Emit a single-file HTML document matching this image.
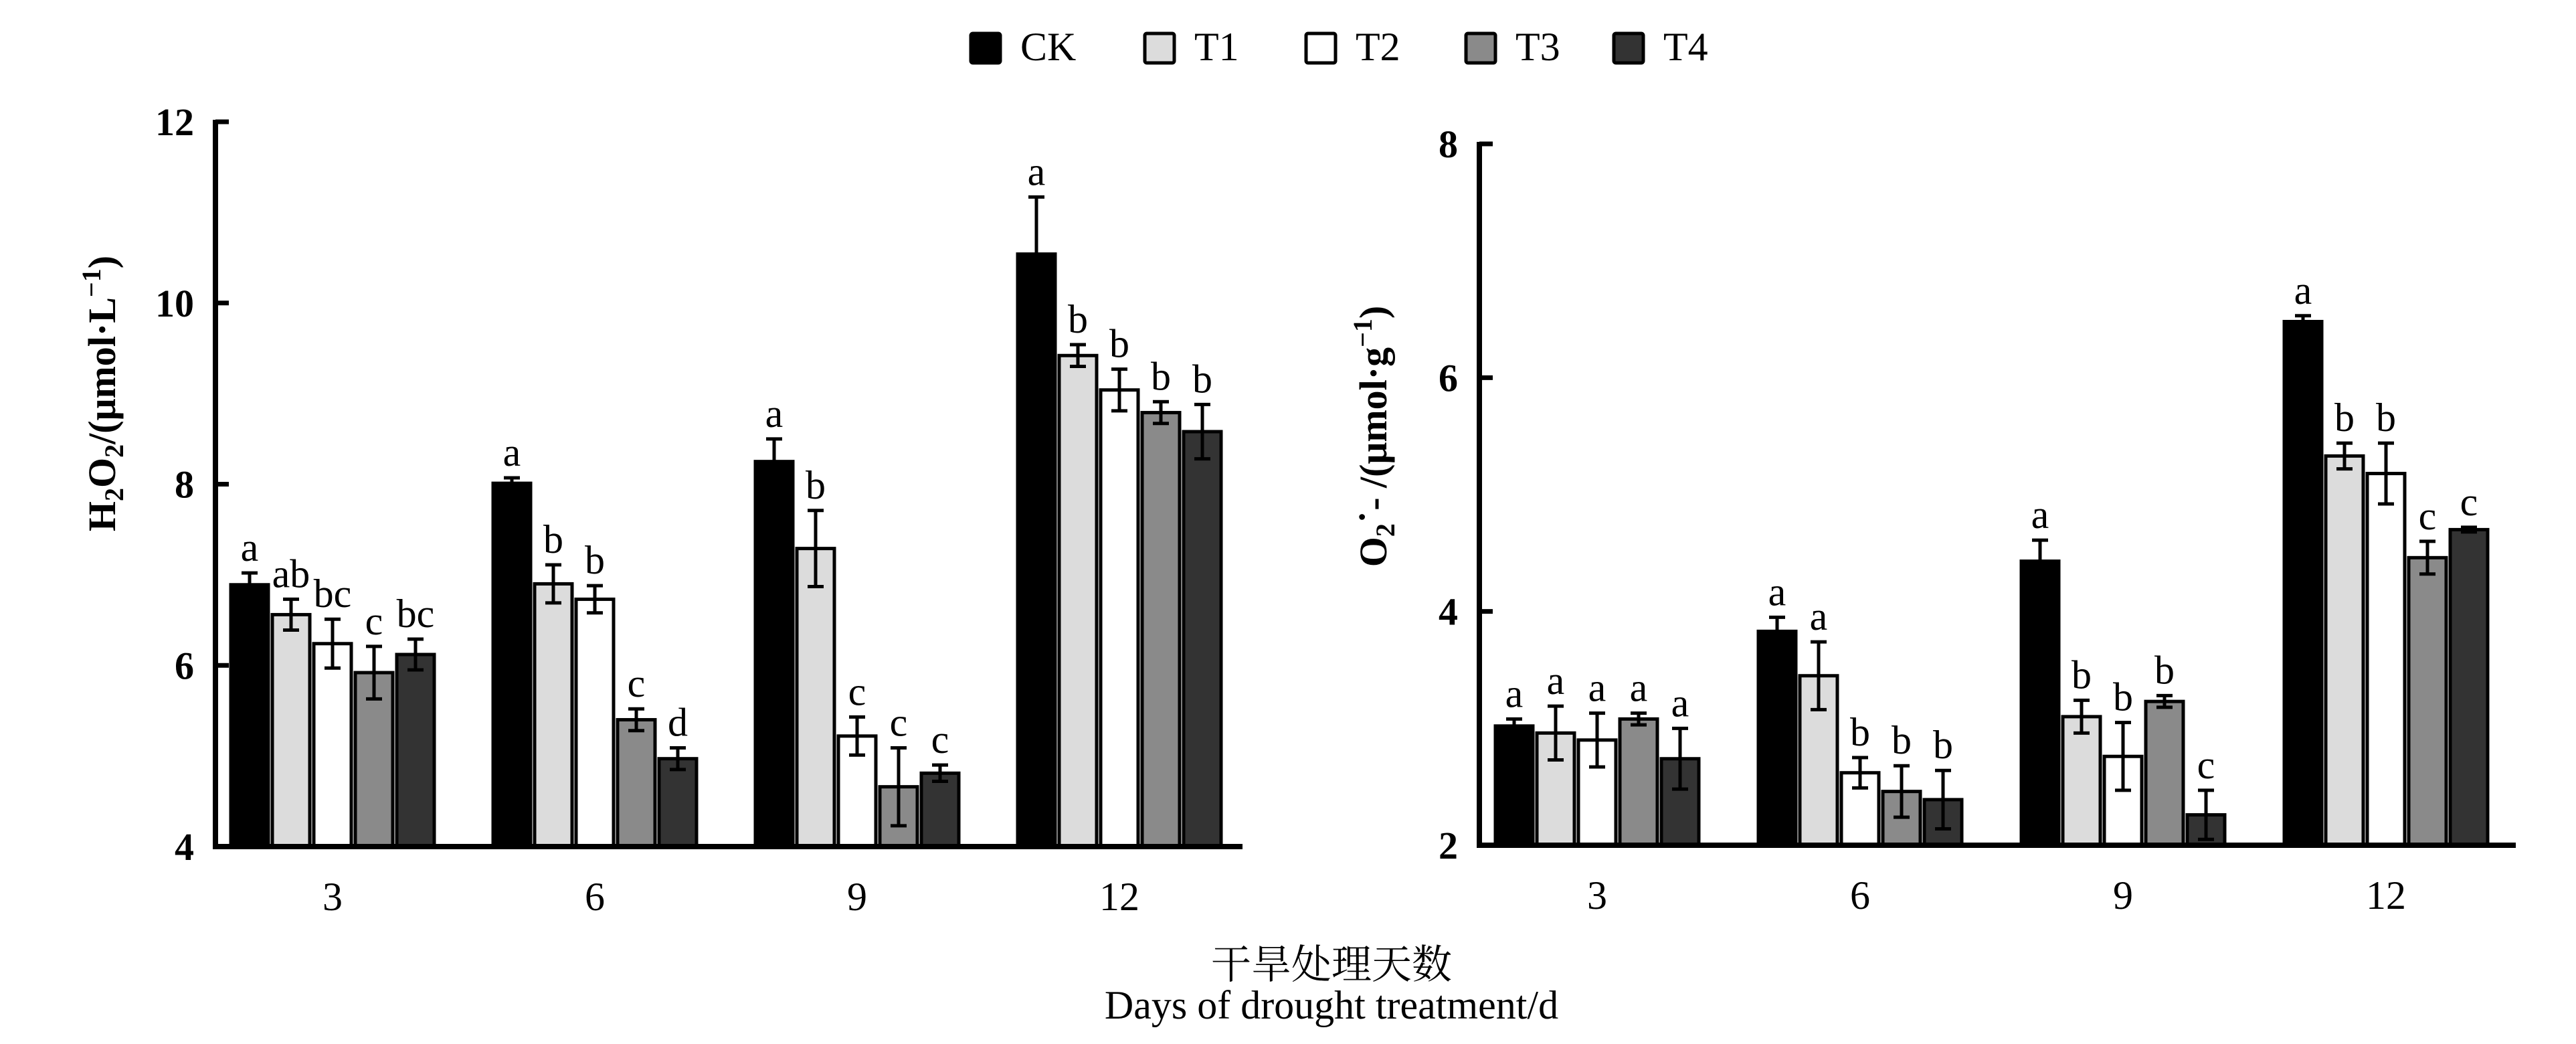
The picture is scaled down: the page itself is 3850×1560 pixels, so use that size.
<!DOCTYPE html>
<html><head><meta charset="utf-8"><style>
html,body{margin:0;padding:0;background:#fff;}
svg{display:block;font-family:"Liberation Serif","Noto Serif CJK SC",serif;}
</style></head><body>
<svg id="chart" width="3850" height="1560" viewBox="0 0 3850 1560" xmlns="http://www.w3.org/2000/svg">
<g id="legend"></g>
<g id="left"></g>
<g id="right"></g>
<text x="1990" y="1462" font-size="60" text-anchor="middle" font-family="'Noto Serif CJK SC','Noto Sans CJK SC',serif">干旱处理天数</text>
<text x="1990" y="1522" font-size="60" text-anchor="middle">Days of drought treatment/d</text>
</svg>
<script>
const categories = ["3","6","9","12"];
const series = ["CK","T1","T2","T3","T4"];
const fills = ["#000","#dcdcdc","#fff","#8a8a8a","#333"];
const h2o2CK = [6.89, 8.01, 8.25, 10.54];
const h2o2T1 = [6.56, 6.90, 7.29, 9.42];
const h2o2T2 = [6.24, 6.73, 5.22, 9.04];
const h2o2T3 = [5.92, 5.40, 4.66, 8.79];
const h2o2T4 = [6.12, 4.97, 4.81, 8.58];
const h2o2Err = [[0.13,0.06,0.25,0.63],[0.17,0.21,0.42,0.12],[0.27,0.15,0.21,0.23],[0.29,0.12,0.43,0.12],[0.17,0.12,0.09,0.30]];
const h2o2Letters = [["a","a","a","a"],["ab","b","b","b"],["bc","b","c","b"],["c","c","c","b"],["bc","d","c","b"]];
const o2CK = [3.02, 3.83, 4.43, 6.48];
const o2T1 = [2.96, 3.45, 3.10, 5.33];
const o2T2 = [2.90, 2.62, 2.76, 5.18];
const o2T3 = [3.08, 2.46, 3.23, 4.46];
const o2T4 = [2.74, 2.39, 2.26, 4.70];
const o2Err = [[0.06,0.12,0.18,0.05],[0.23,0.29,0.14,0.11],[0.23,0.13,0.29,0.26],[0.05,0.22,0.05,0.14],[0.26,0.25,0.21,0.02]];
const o2Letters = [["a","a","a","a"],["a","a","b","b"],["a","b","b","b"],["a","b","b","c"],["a","b","c","c"]];
const h2o2Ticks = [4,6,8,10,12];
const o2Ticks = [2,4,6,8];

const NS="http://www.w3.org/2000/svg";
function mk(tag, attrs, parent){const e=document.createElementNS(NS,tag);for(const k in attrs)e.setAttribute(k,attrs[k]);parent.appendChild(e);return e;}

function panel(g, cfg){
  const yScale=v=>cfg.y0-(v-cfg.vmin)*(cfg.y0-cfg.y1)/(cfg.vmax-cfg.vmin);
  const xCenter=i=>cfg.cx0+i*cfg.step;
  const barW=56, barStep=62;
  cfg.data.forEach((vals,s)=>{
    vals.forEach((v,i)=>{
      const x=xCenter(i)+(s-2)*barStep-barW/2;
      const yt=yScale(v);
      const r=mk('rect',{x:x,y:yt,width:barW,height:cfg.y0-yt,fill:fills[s],stroke:'#000','stroke-width':5},g);
      
      
      const e=cfg.err[s][i];
      const xc=x+barW/2, ya=yScale(v+e), yb=yScale(v-e);
      const eb=mk('path',{d:`M${xc},${ya}V${yb}M${xc-12},${ya}H${xc+12}M${xc-12},${yb}H${xc+12}`,stroke:'#000','stroke-width':5,fill:'none'},g);
      
      
      const t=mk('text',{x:xc,y:ya-18,'font-size':60,'text-anchor':'middle'},g);
      t.textContent=cfg.letters[s][i];
      
      
    });
  });
  const ax=mk('path',{d:`M${cfg.ax},${cfg.y1-3}V${cfg.y0}H${cfg.axEnd}`,stroke:'#000','stroke-width':8,fill:'none'},g);
  
  
  cfg.ticks.forEach(tv=>{
    const y=yScale(tv);
    const tk=mk('line',{x1:cfg.ax,x2:cfg.ax+20,y1:y,y2:y,stroke:'#000','stroke-width':7},g);
    
    
    const tl=mk('text',{x:cfg.ax-32,y:y+20,'font-size':58,'text-anchor':'end','font-weight':'bold'},g);
    tl.textContent=tv;
    
    
  });
  categories.forEach((c,i)=>{
    const tl=mk('text',{x:xCenter(i),y:cfg.y0+95,'font-size':60,'text-anchor':'middle'},g);
    tl.textContent=c;
    
    
  });
}

panel(document.getElementById('left'),{y0:1265,y1:182,vmin:4,vmax:12,cx0:497,step:392,ax:322,axEnd:1857,
  data:[h2o2CK,h2o2T1,h2o2T2,h2o2T3,h2o2T4],err:h2o2Err,letters:h2o2Letters,ticks:h2o2Ticks});
panel(document.getElementById('right'),{y0:1263,y1:215,vmin:2,vmax:8,cx0:2387,step:393,ax:2211,axEnd:3760,
  data:[o2CK,o2T1,o2T2,o2T3,o2T4],err:o2Err,letters:o2Letters,ticks:o2Ticks});

const L=document.getElementById('left');
const lt=mk('text',{transform:'translate(172,588) rotate(-90)','font-size':58,'text-anchor':'middle','font-weight':'bold'},L);
lt.innerHTML='H<tspan font-size="40" dy="12">2</tspan><tspan dy="-12">O</tspan><tspan font-size="40" dy="12">2</tspan><tspan dy="-12">/(μmol·L</tspan><tspan font-size="40" dy="-22">−1</tspan><tspan dy="22">)</tspan>';


const R=document.getElementById('right');
const rt=mk('text',{transform:'translate(2072,652) rotate(-90)','font-size':58,'text-anchor':'middle','font-weight':'bold'},R);
rt.innerHTML='O<tspan font-size="40" dy="12">2</tspan><tspan dy="-12">˙- /(μmol·g</tspan><tspan font-size="40" dy="-22">−1</tspan><tspan dy="22">)</tspan>';



const LG=document.getElementById('legend');
const legX=[1451,1711,1952,2191,2412];
series.forEach((s,i)=>{
  const r=mk('rect',{x:legX[i],y:50,width:44,height:44,fill:fills[i],stroke:'#000','stroke-width':5,rx:3},LG);
  
  
  const t=mk('text',{x:legX[i]+74,y:90,'font-size':60},LG);
  t.textContent=s;
  
  
});
</script>
</body></html>
